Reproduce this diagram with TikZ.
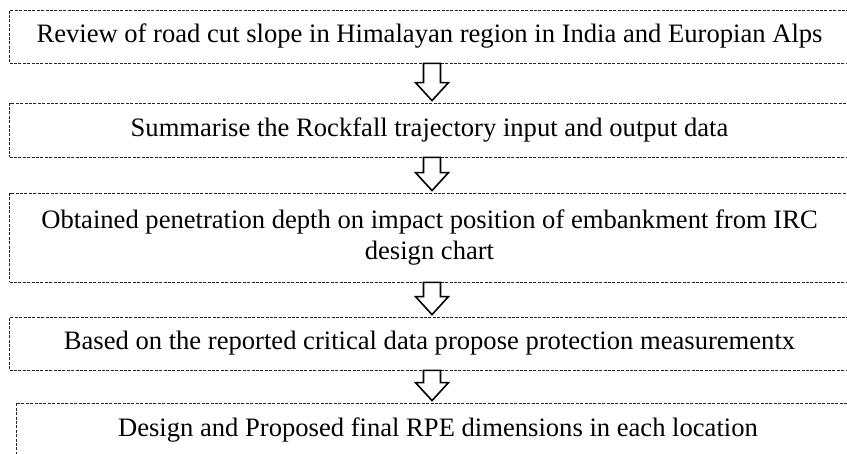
\documentclass[tikz,border=0pt]{standalone}
\usepackage{fontspec}
\setmainfont{Liberation Serif}
\usetikzlibrary{calc}
\tikzset{
  stepbox/.style={draw=black!85, line width=0.8pt, dash pattern=on 3pt off 1.4pt,
    minimum width=840pt, inner sep=0pt, align=center,
    font=\fontsize{26.6}{31}\selectfont},
  blockarrow/.style={draw=black, line width=1.6pt, fill=white, line join=miter},
}
\newcommand\blockarrowdraw[2]{%
  \draw[blockarrow] let \p1=(#1.south), \p2=(#2.north) in
    (432pt-8.5pt,\y1) -- (432pt+8.5pt,\y1) -- (432pt+8.5pt,\y2+20pt)
    -- (432pt+16.5pt,\y2+20pt) -- (432pt,\y2+2pt) -- (432pt-16.5pt,\y2+20pt)
    -- (432pt-8.5pt,\y2+20pt) -- cycle;}
\begin{document}
\begin{tikzpicture}[x=1pt,y=1pt]
\useasboundingbox (0,0) rectangle (847,454);
\clip (0,0) rectangle (847,454);
\node[stepbox, minimum height=53pt] (b1) at (429.5,417.5)
  {Review of road cut slope in Himalayan region in India and Europian Alps};
\node[stepbox, minimum height=54pt] (b2) at (429.5,324)
  {Summarise the Rockfall trajectory input and output data};
\node[stepbox, minimum height=89pt] (b3) at (429.5,216.5)
  {Obtained penetration depth on impact position of embankment from IRC\\design chart};
\node[stepbox, minimum height=53pt] (b4) at (429.5,110.5)
  {Based on the reported critical data propose protection measurementx};
\node[stepbox, minimum height=54pt, minimum width=844pt] (b5) at (438,24)
  {Design and Proposed final RPE dimensions in each location};
\blockarrowdraw{b1}{b2}
\blockarrowdraw{b2}{b3}
\blockarrowdraw{b3}{b4}
\blockarrowdraw{b4}{b5}
\end{tikzpicture}
\end{document}
